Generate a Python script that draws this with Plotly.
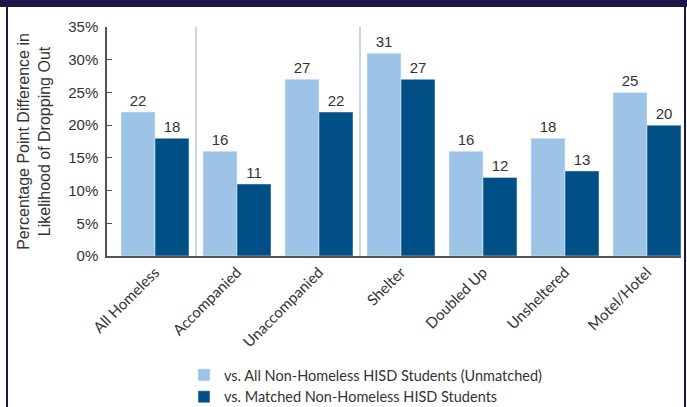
import plotly.graph_objects as go

categories = ["All Homeless", "Accompanied", "Unaccompanied", "Shelter", "Doubled Up", "Unsheltered", "Motel/Hotel"]
unmatched = [22, 16, 27, 31, 16, 18, 25]
matched = [18, 11, 22, 27, 12, 13, 20]
series_names = ["vs. All Non-Homeless HISD Students (Unmatched)", "vs. Matched Non-Homeless HISD Students"]
y_ticks = [0, 5, 10, 15, 20, 25, 30, 35]

LIGHT = "#9dc3e6"
DARK = "#004f86"
NAVY = "#1d1545"
TXT = "#333333"

W, H = 687, 407
L, R, T, B = 107, 6, 27, 151
pw, ph = W - L - R, H - T - B

def px(x):
    return (x - L) / pw

def py(y):
    return (H - B - y) / ph

fig = go.Figure()
fig.add_trace(go.Bar(x=categories, y=unmatched, name=series_names[0], marker_color=LIGHT,
                     text=unmatched, textposition="outside", cliponaxis=False,
                     textfont=dict(family="Liberation Sans", size=15, color=TXT)))
fig.add_trace(go.Bar(x=categories, y=matched, name=series_names[1], marker_color=DARK,
                     text=matched, textposition="outside", cliponaxis=False,
                     textfont=dict(family="Liberation Sans", size=15, color=TXT)))

shapes = [
    dict(type="rect", xref="paper", yref="paper", x0=px(-5), x1=px(W + 5), y0=py(7), y1=py(-5),
         fillcolor=NAVY, line_width=0, layer="above"),
    dict(type="line", xref="paper", yref="paper", x0=px(7), x1=px(7), y0=py(7), y1=py(H + 5),
         line=dict(color=NAVY, width=2)),
    dict(type="line", xref="paper", yref="paper", x0=px(685), x1=px(685), y0=py(7), y1=py(H + 5),
         line=dict(color=NAVY, width=2)),
]
for sep in [0.5, 2.5]:
    shapes.append(dict(type="line", xref="x", yref="paper", x0=sep, x1=sep, y0=0, y1=1,
                       line=dict(color="#b9c9dd", width=1.5), layer="below"))

fig.update_layout(
    width=W, height=H,
    margin=dict(l=L, r=R, t=T, b=B, autoexpand=False),
    paper_bgcolor="white", plot_bgcolor="white",
    barmode="group", bargap=14 / 82, bargroupgap=0,
    showlegend=True,
    legend=dict(x=px(184), y=py(359), xanchor="left", yanchor="top", orientation="v",
                font=dict(family="Lato", size=14.5, color=TXT), tracegroupgap=0,
                bgcolor="rgba(0,0,0,0)"),
    shapes=shapes,
    xaxis=dict(range=[-48 / 82, 6 + 34 / 82], tickangle=-45, showline=True, linecolor="#555555",
               linewidth=1.5, ticks="", showgrid=False, automargin=False,
               tickfont=dict(family="Lato", size=15, color=TXT)),
    yaxis=dict(range=[0, 35], tickvals=y_ticks, ticktext=[f"{v}%" for v in y_ticks],
               ticks="inside", ticklen=5, tickcolor="#555555", showline=True, linecolor="#555555",
               linewidth=1.5, showgrid=False, zeroline=False, automargin=False,
               ticklabelstandoff=4,
               tickfont=dict(family="Liberation Sans", size=15, color=TXT),
               title=dict(text="Percentage Point Difference in<br>Likelihood of Dropping Out",
                          font=dict(family="Liberation Sans", size=16, color=TXT), standoff=14)),
)

fig.write_html("out.html", config={"displayModeBar": False},
               post_script="document.body.style.margin='0px';document.body.style.overflow='hidden';")
